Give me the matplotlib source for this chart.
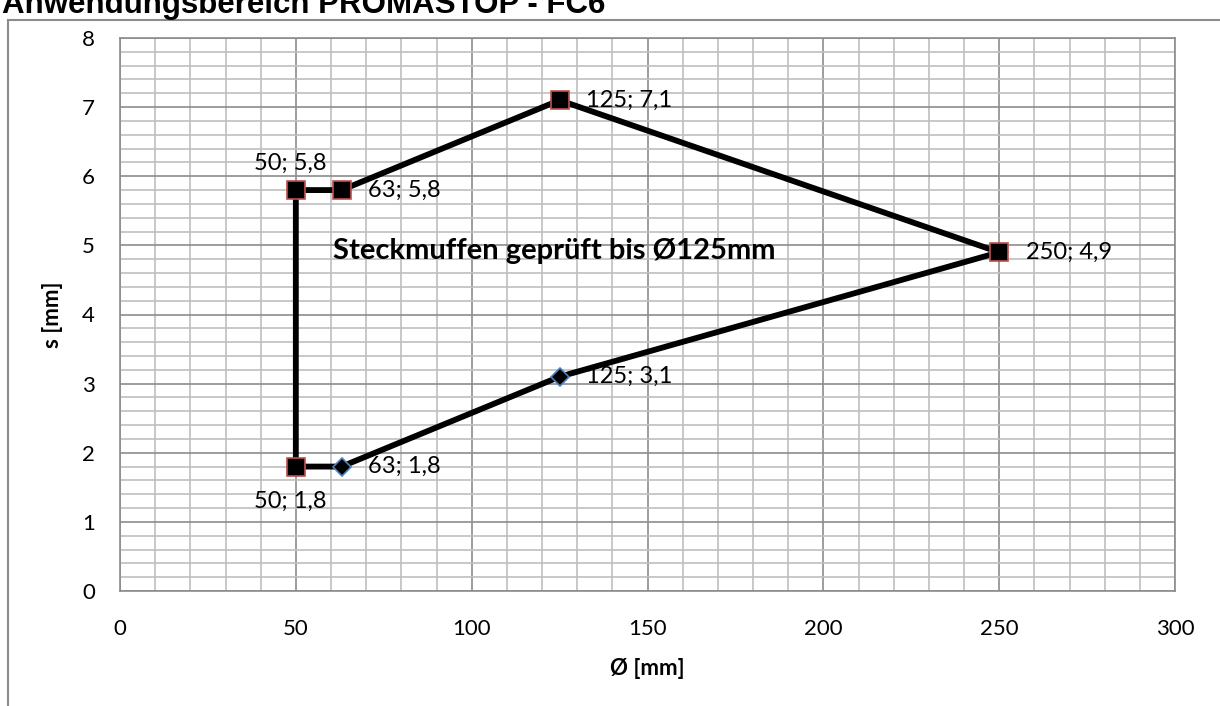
import matplotlib.pyplot as plt
from matplotlib.ticker import MultipleLocator
from matplotlib.lines import Line2D

# lower edge of the range (diamond markers)
lower_x = [50, 63, 125, 250]
lower_y = [1.8, 1.8, 3.1, 4.9]

# upper edge of the range (square markers)
upper_x = [50, 50, 63, 125, 250]
upper_y = [1.8, 5.8, 5.8, 7.1, 4.9]

labels = ['50; 1,8', '63; 1,8', '125; 3,1', '250; 4,9',
          '50; 5,8', '63; 5,8', '125; 7,1']
label_x = [50, 63, 125, 250, 50, 63, 125]
label_y = [1.8, 1.8, 3.1, 4.9, 5.8, 5.8, 7.1]
label_pos = ['below', 'right', 'right', 'right', 'above', 'right', 'right']

title = 'Anwendungsbereich PROMASTOP - FC6'
note = 'Steckmuffen geprüft bis Ø125mm'

plt.rcParams['font.family'] = ['Lato', 'DejaVu Sans']

fig = plt.figure(figsize=(12.2, 7.06), dpi=100)
ax = fig.add_axes([120 / 1220, 1 - 591 / 706, 1055 / 1220, 553 / 706])

# outer chart frame (cut off on top/right in the original)
fig.add_artist(Line2D([8 / 1220, 8 / 1220], [0, 1 - 20 / 706],
                      transform=fig.transFigure, color='#8c8c8c', lw=1.5))
fig.add_artist(Line2D([8 / 1220, 1], [1 - 20 / 706, 1 - 20 / 706],
                      transform=fig.transFigure, color='#8c8c8c', lw=1.5))
fig.text(2 / 1220, 1 - 13 / 706, title, fontsize=22.5, fontweight='bold',
         family='Liberation Sans', ha='left', va='baseline')

ax.plot(lower_x, lower_y, color='black', lw=4.2, marker='D', ms=9,
        mfc='black', mec='#4f81bd', mew=1.2, zorder=3)
ax.plot(upper_x, upper_y, color='black', lw=4.2, marker='s', ms=13,
        mfc='black', mec='#c0504d', mew=1.2, zorder=4)

for t, x, y, p in zip(labels, label_x, label_y, label_pos):
    if p == 'right':
        ax.annotate(t, (x, y), xytext=(19, 0), textcoords='offset points',
                    ha='left', va='center', fontsize=17)
    elif p == 'above':
        ax.annotate(t, (x, y), xytext=(-4, 19), textcoords='offset points',
                    ha='center', va='center', fontsize=17)
    else:
        ax.annotate(t, (x, y), xytext=(-4, -25), textcoords='offset points',
                    ha='center', va='center', fontsize=17)

ax.text(60.6, 4.92, note, fontsize=21, fontweight='bold', ha='left', va='center')

ax.set_xlim(0, 300)
ax.set_ylim(0, 8)
ax.xaxis.set_major_locator(MultipleLocator(50))
ax.xaxis.set_minor_locator(MultipleLocator(10))
ax.yaxis.set_major_locator(MultipleLocator(1))
ax.yaxis.set_minor_locator(MultipleLocator(0.2))
ax.grid(which='major', color='#8c8c8c', lw=1.2)
ax.grid(which='minor', color='#bfbfbf', lw=1.2)
ax.set_axisbelow(True)
for s in ax.spines.values():
    s.set_color('#8c8c8c')
    s.set_linewidth(1.2)
ax.tick_params(which='both', length=0, labelsize=16)
ax.tick_params(axis='x', pad=20)
ax.tick_params(axis='y', pad=18)

ax.set_xlabel('Ø [mm]', fontsize=16, fontweight='bold', labelpad=14)
ax.set_ylabel('s [mm]', fontsize=16, fontweight='bold', labelpad=14)

fig.savefig('out.png', dpi=100)
